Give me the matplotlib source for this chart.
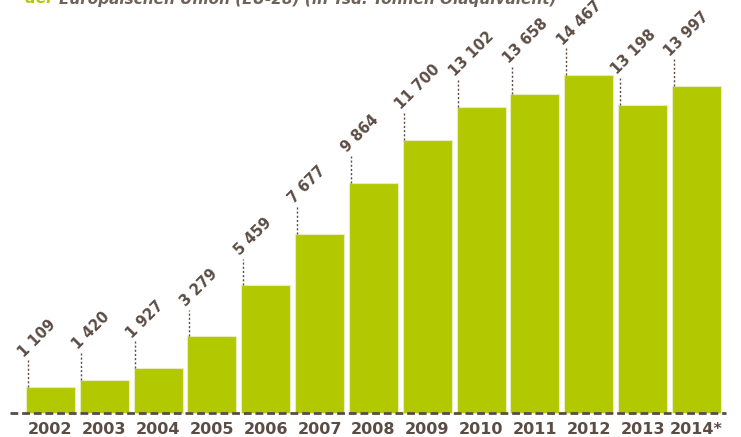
import matplotlib
matplotlib.use("Agg")
import matplotlib.pyplot as plt

# data (in Tsd. Tonnen Öläquivalent)
years = ["2002", "2003", "2004", "2005", "2006", "2007", "2008",
         "2009", "2010", "2011", "2012", "2013", "2014*"]
values = [1109, 1420, 1927, 3279, 5459, 7677, 9864,
          11700, 13102, 13658, 14467, 13198, 13997]

GREEN = "#b2c800"
BROWN = "#5b4c44"


def fmt(v):
    return f"{v:,}".replace(",", " ")


fig = plt.figure(figsize=(7.41, 4.37), dpi=100)
ax = fig.add_axes([0, 0, 1, 1])
ax.set_xlim(-0.938, 12.827)
ax.set_ylim(-1027, 17677)
ax.axis("off")

xs = list(range(len(years)))
bw = 0.91
ax.bar(xs, values, width=bw, color=GREEN, edgecolor="#e6eec0",
       linewidth=0.8, zorder=2)

# dotted leader lines + rotated value labels
lead = 1150
for x, v in zip(xs, values):
    left = x - bw / 2 + 0.03
    ax.plot([left, left], [v, v + lead], color=BROWN, lw=1.0,
            linestyle=(0, (1.5, 1.5)), zorder=3)
    ax.text(left - 0.02, v + lead + 20, fmt(v), rotation=45,
            rotation_mode="anchor", ha="left", va="bottom",
            fontsize=10.5, fontweight="bold", color=BROWN, zorder=4)

# dashed baseline over the bars
ax.plot([-0.76, 12.55], [0, 0], color=BROWN, lw=2.0,
        linestyle=(0, (2.8, 1.4)), zorder=5, solid_capstyle="butt")

# year labels
for x, y in zip(xs, years):
    ax.text(x, -720, y, ha="center", va="center", fontsize=11.5,
            fontweight="bold", color=BROWN)

# title (cut off at top)
t1 = fig.text(0.034, 1.004, "der ", ha="left", va="center", fontsize=11,
              style="italic", fontweight="bold", color=GREEN)
fig.canvas.draw()
bb = t1.get_window_extent()
fig.text(bb.x1 / fig.bbox.width, 1.004,
         "Europäischen Union (EU-28) (in Tsd. Tonnen Öläquivalent)",
         ha="left", va="center", fontsize=11, style="italic",
         fontweight="bold", color="#6e625b")

fig.savefig("out.png", dpi=100)
